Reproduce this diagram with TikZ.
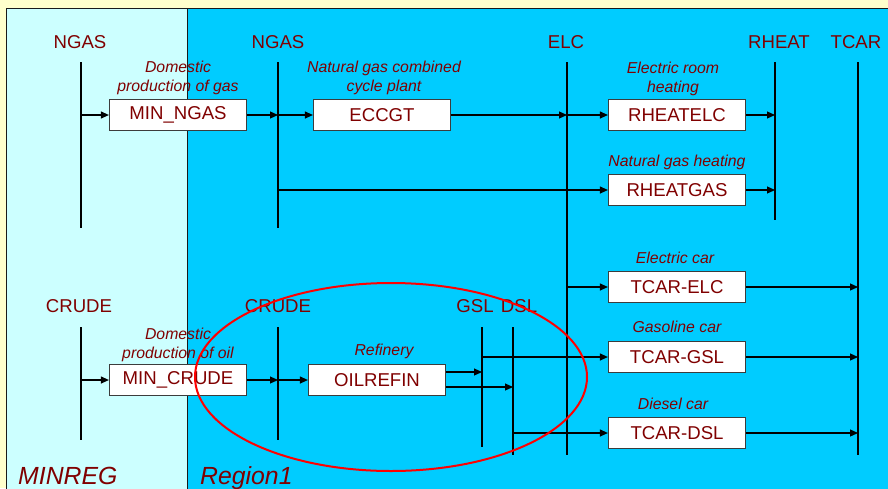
\documentclass[tikz,border=0pt]{standalone}
\usepackage{fontspec}
\setmainfont{Liberation Sans}
\usetikzlibrary{arrows.meta, positioning}
\definecolor{cyellow}{HTML}{FFFFCC}
\definecolor{cpale}{HTML}{CCFFFF}
\definecolor{ccyan}{HTML}{00CCFF}
\definecolor{cdred}{HTML}{800000}
\definecolor{cdark}{HTML}{1A1A1A}
\tikzset{
  procbox/.style={draw=cdark!85, fill=white, line width=1.2pt, minimum width=137pt, minimum height=31pt, inner sep=0pt, text=cdred, font=\fontsize{18.6}{20}\selectfont},
  note/.style={text=cdred, align=center, inner sep=0pt, text depth=0pt, font=\fontsize{15.8}{19}\selectfont\itshape},
  buslabel/.style={text=cdred, anchor=base, inner sep=0pt, font=\fontsize{18.6}{20}\selectfont},
  bus/.style={draw=black, line width=1.4pt},
  arrow/.style={-{Triangle[length=8pt, width=7pt]}, draw=black, line width=1.1pt},
  region/.style={text=cdred, anchor=base west, inner sep=0pt, font=\fontsize{24.8}{26}\selectfont\itshape},
}

\begin{document}
\begin{tikzpicture}[x=1pt, y=-1pt]
  \fill[cyellow] (0,0) rectangle (888,488);
  \clip (0,0) rectangle (888,488);
  \filldraw[fill=cpale, draw=cdark, line width=1pt] (6,8) rectangle (187,500);
  \filldraw[fill=ccyan, draw=cdark, line width=1pt] (187,8) rectangle (900,500);
  \node[region] (minreg) at (18,484) {MINREG};
  \node[region] (region1) at (200,484) {Region1};
  \foreach \n/\x/\t/\b in {ngasM/81/62/228, ngasR/278/62/228, elc/567/62/455, rheat/775/62/220, tcar/858/62/455, crudeM/81/327/440, crudeR/278/327/440, gsl/482/327/447, dsl/513/327/455} {
    \coordinate (\n-t) at (\x,\t);
    \coordinate (\n-b) at (\x,\b);
    \draw[bus] (\n-t) -- (\n-b);
  }
  \foreach \n/\x/\y/\t in {ngasM/80/48/NGAS, ngasR/278/48/NGAS, elc/566/48/ELC, rheat/779/48/RHEAT, tcar/856/48/TCAR, crudeM/79/312/CRUDE, crudeR/278/312/CRUDE, gsl/475/312/GSL, dsl/519/312/DSL}
    \node[buslabel] (\n-lbl) at (\x,\y) {\t};
  \node[procbox] (minngas) at (178,115) {MIN\_NGAS};
  \node[procbox] (eccgt) at (382,115) {ECCGT};
  \node[procbox] (rheatelc) at (677,115) {RHEATELC};
  \node[procbox] (rheatgas) at (677,190) {RHEATGAS};
  \node[procbox] (tcarelc) at (677,287) {TCAR-ELC};
  \node[procbox] (tcargsl) at (677,357) {TCAR-GSL};
  \node[procbox] (tcardsl) at (677,433) {TCAR-DSL};
  \node[procbox] (mincrude) at (178,380) {MIN\_CRUDE};
  \node[procbox] (oilrefin) at (377,380) {OILREFIN};
  \node[note, above=7pt of minngas] (minngas-note) {Domestic\\production of gas};
  \node[note, above=7pt of eccgt, xshift=2pt] (eccgt-note) {Natural gas combined\\cycle plant};
  \node[note, above=6pt of rheatelc, xshift=-4pt] (rheatelc-note) {Electric room\\heating};
  \node[note, above=7pt of rheatgas] (rheatgas-note) {Natural gas heating};
  \node[note, above=7pt of tcarelc, xshift=-2pt] (tcarelc-note) {Electric car};
  \node[note, above=8pt of tcargsl] (tcargsl-note) {Gasoline car};
  \node[note, above=7pt of tcardsl, xshift=-4pt] (tcardsl-note) {Diesel car};
  \node[note, above=5pt of mincrude] (mincrude-note) {Domestic\\production of oil};
  \node[note, above=8pt of oilrefin, xshift=7pt] (oilrefin-note) {Refinery};
  \draw[arrow] (ngasM-t |- minngas) -- (minngas.west);
  \draw[arrow] (minngas.east) -- (minngas.east -| ngasR-t);
  \draw[arrow] (ngasR-t |- eccgt) -- (eccgt.west);
  \draw[arrow] (eccgt.east) -- (eccgt.east -| elc-t);
  \draw[arrow] (elc-t |- rheatelc) -- (rheatelc.west);
  \draw[arrow] (rheatelc.east) -- (rheatelc.east -| rheat-t);
  \draw[arrow] (ngasR-t |- rheatgas) -- (rheatgas.west);
  \draw[arrow] (rheatgas.east) -- (rheatgas.east -| rheat-t);
  \draw[arrow] (elc-t |- tcarelc) -- (tcarelc.west);
  \draw[arrow] (tcarelc.east) -- (tcarelc.east -| tcar-t);
  \draw[arrow] (gsl-t |- tcargsl) -- (tcargsl.west);
  \draw[arrow] (tcargsl.east) -- (tcargsl.east -| tcar-t);
  \draw[arrow] (dsl-t |- tcardsl) -- (tcardsl.west);
  \draw[arrow] (tcardsl.east) -- (tcardsl.east -| tcar-t);
  \draw[arrow] (crudeM-t |- mincrude) -- (mincrude.west);
  \draw[arrow] (mincrude.east) -- (mincrude.east -| crudeR-t);
  \draw[arrow] (crudeR-t |- oilrefin) -- (oilrefin.west);
  \draw[arrow] ([yshift=8pt]oilrefin.east) -- ([yshift=8pt]oilrefin.east -| gsl-t);
  \draw[arrow] ([yshift=-7pt]oilrefin.east) -- ([yshift=-7pt]oilrefin.east -| dsl-t);
  \draw[red, line width=2pt] (391,377) ellipse [x radius=196pt, y radius=94pt];
\end{tikzpicture}
\end{document}
